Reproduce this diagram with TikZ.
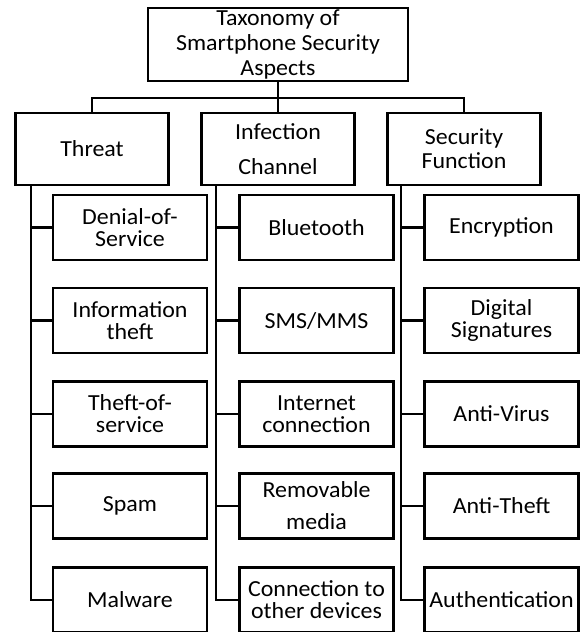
\documentclass[tikz,border=0pt]{standalone}
\usepackage{fontspec}
\setmainfont{Carlito}[FakeStretch=1.04]
\begin{document}
\begin{tikzpicture}[x=1pt,y=-1pt,
  box/.style={draw, line width=2.5pt, inner sep=0pt, align=center, font=\fontsize{23}{22}\selectfont},
  rootbox/.style={box, minimum width=260pt, minimum height=73pt, font=\fontsize{23}{25}\selectfont},
  lvlbox/.style={box, minimum width=153pt, minimum height=72pt},
  kidbox/.style={box, minimum width=154pt, minimum height=65pt},
  link/.style={line width=2.5pt}]
\useasboundingbox (0,0) rectangle (580,632);
% root
\node[rootbox] (root) at (278,44.5) {Taxonomy of\\Smartphone Security\\Aspects};
% level 1
\node[lvlbox] (t) at (92,149) {Threat};
\node[lvlbox] (c) at (278,149) {Infection\\[13pt]Channel};
\node[lvlbox, font=\fontsize{23}{24}\selectfont] (s) at (464,149) {Security\\Function};
% threat children
\node[kidbox] (t1) at (130,227.5) {Denial-of-\\Service};
\node[kidbox] (t2) at (130,320.5) {Information\\theft};
\node[kidbox] (t3) at (130,414) {Theft-of-\\service};
\node[kidbox] (t4) at (130,506) {Spam};
\node[kidbox] (t5) at (130,600) {Malware};
% infection children
\node[kidbox] (c1) at (316.5,227.5) {Bluetooth};
\node[kidbox] (c2) at (316.5,320.5) {SMS/MMS};
\node[kidbox] (c3) at (316.5,414) {Internet\\connection};
\node[kidbox] (c4) at (316.5,506) {Removable\\[10pt]media};
\node[kidbox] (c5) at (316.5,600) {Connection to\\other devices};
% security children
\node[kidbox] (s1) at (501.5,227.5) {Encryption};
\node[kidbox] (s2) at (501.5,320.5) {Digital\\Signatures};
\node[kidbox] (s3) at (501.5,414) {Anti-Virus};
\node[kidbox] (s4) at (501.5,506) {Anti-Theft};
\node[kidbox] (s5) at (501.5,600) {Authentication};
% top connectors
\coordinate (bar) at (278,98);
\draw[link] (root.south) -- (bar);
\draw[link] (t.north) |- (bar) -| (s.north);
\draw[link] (bar) -- (c.north);
% branch lines
\coordinate (tv) at (31,185);
\coordinate (cv) at (216,185);
\coordinate (sv) at (401,185);
\draw[link] (tv) |- (t5.west);
\draw[link] (cv) |- (c5.west);
\draw[link] (sv) |- (s5.west);
\foreach \i in {1,2,3,4}{
  \draw[link] (tv |- t\i.west) -- (t\i.west);
  \draw[link] (cv |- c\i.west) -- (c\i.west);
  \draw[link] (sv |- s\i.west) -- (s\i.west);
}
\end{tikzpicture}
\end{document}
